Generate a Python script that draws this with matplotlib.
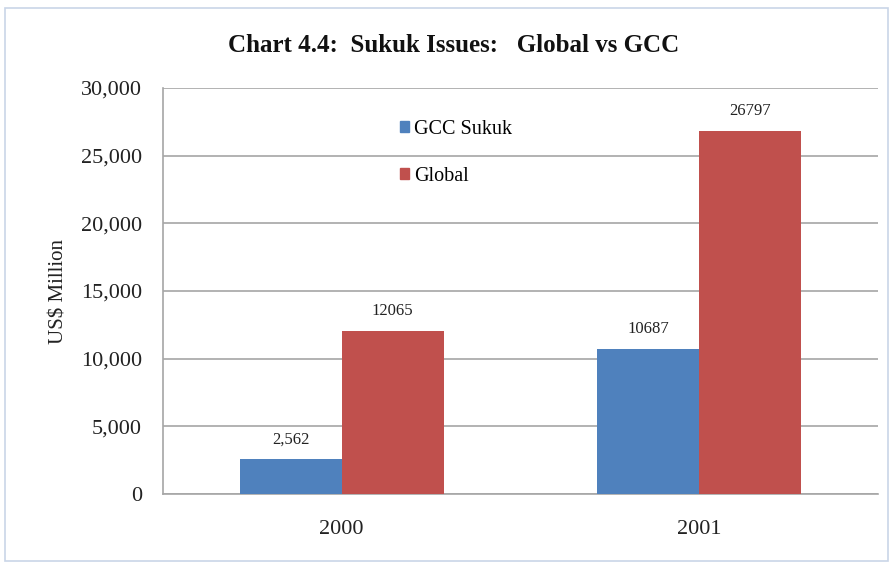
import matplotlib
matplotlib.use("Agg")
import matplotlib.pyplot as plt
from matplotlib.patches import Rectangle, Patch
import numpy as np

years = ["2000", "2001"]
gcc_sukuk = [2562, 10687]
global_sukuk = [12065, 26797]
gcc_labels = ["2,562", "10687"]
global_labels = ["12065", "26797"]
yticks = [0, 5000, 10000, 15000, 20000, 25000, 30000]
ytick_labels = ["0", "5,000", "10,000", "15,000", "20,000", "25,000", "30,000"]

BLUE = "#4F81BD"
RED = "#C0504D"
SERIF = ["Liberation Serif", "DejaVu Serif"]

fig = plt.figure(figsize=(8.93, 5.66), dpi=100)
fig.patch.set_facecolor("white")

# outer frame
fig.patches.append(Rectangle((5/893, 5/566), 883/893, 553/566, transform=fig.transFigure,
                             fill=False, edgecolor="#C9D5E8", linewidth=1.2))

ax = fig.add_axes([163/893, 1-494/566, 715/893, 406/566])
x = np.arange(len(years))
w = 0.285
b1 = ax.bar(x - w/2, gcc_sukuk, w, color=BLUE, label="GCC Sukuk", zorder=3)
b2 = ax.bar(x + w/2, global_sukuk, w, color=RED, label="Global", zorder=3)

for rect, lab in zip(b1, gcc_labels):
    ax.annotate(lab, (rect.get_x() + rect.get_width()/2, rect.get_height()),
                xytext=(0, 12), textcoords="offset pixels", ha="center", va="bottom",
                fontsize=12, family=SERIF, color="#222222")
for rect, lab in zip(b2, global_labels):
    ax.annotate(lab, (rect.get_x() + rect.get_width()/2, rect.get_height()),
                xytext=(0, 12), textcoords="offset pixels", ha="center", va="bottom",
                fontsize=12, family=SERIF, color="#222222")

ax.set_xlim(-0.5, 1.5)
ax.set_ylim(0, 30000)
ax.set_yticks(yticks)
ax.set_yticklabels(ytick_labels, family=SERIF, fontsize=16, color="#222222")
ax.set_xticks(x)
ax.set_xticklabels(years, family=SERIF, fontsize=16, color="#222222")
ax.tick_params(axis="both", length=0)
ax.tick_params(axis="y", pad=15)
ax.tick_params(axis="x", pad=19)
ax.yaxis.grid(True, color="#A6A6A6", linewidth=1.2, zorder=0)
ax.set_axisbelow(True)
for s in ["top", "right"]:
    ax.spines[s].set_visible(False)
ax.spines["left"].set_color("#A6A6A6")
ax.spines["bottom"].set_color("#A6A6A6")
ax.spines["left"].set_linewidth(1.2)
ax.spines["bottom"].set_linewidth(1.2)

ax.set_ylabel("US$ Million", family=SERIF, fontsize=15, color="#222222", labelpad=9)

ax.legend(handles=[Patch(color=BLUE, label="GCC Sukuk"), Patch(color=RED, label="Global")],
          loc="center left", bbox_to_anchor=((400-163)/715, (494-153)/406), frameon=False,
          borderpad=0, borderaxespad=0,
          prop={"family": SERIF, "size": 14.5}, handlelength=0.45, handleheight=0.45,
          handletextpad=0.25, labelspacing=1.39)

fig.text(454/893, 1-45/566, "Chart 4.4:  Sukuk Issues:   Global vs GCC", ha="center", va="center",
         family=SERIF, fontsize=18, fontweight="bold", color="#111111")

fig.savefig("out.png", dpi=100)
